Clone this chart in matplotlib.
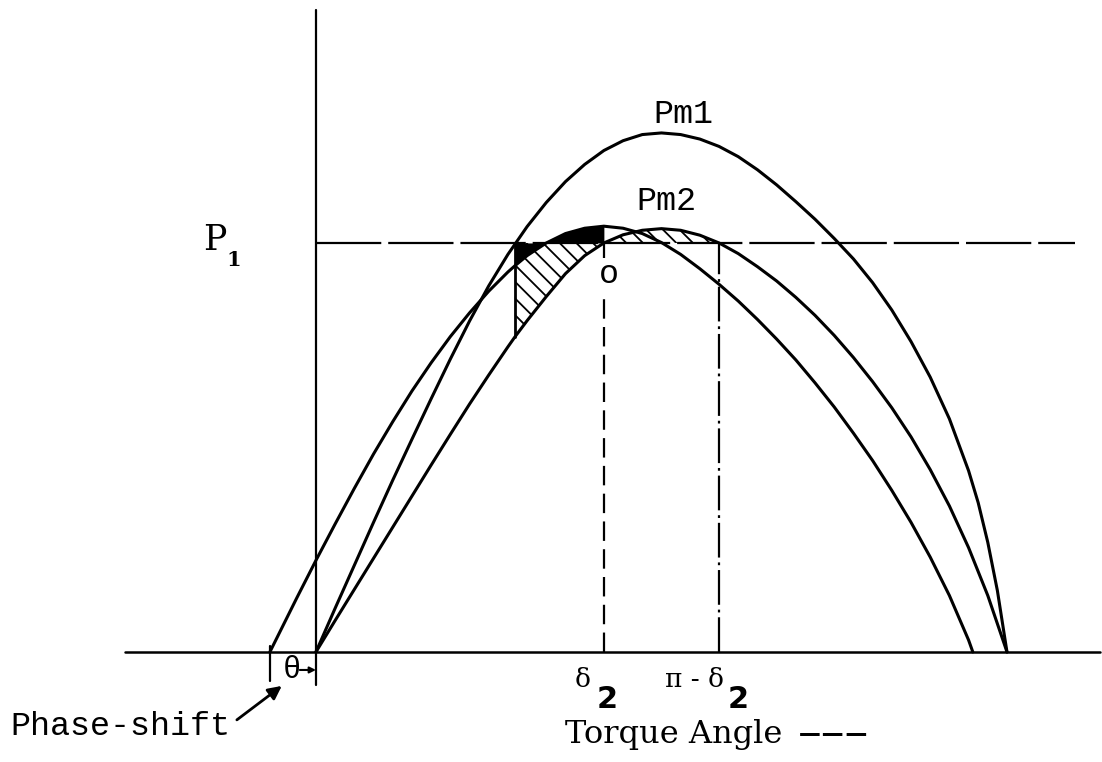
import numpy as np
import matplotlib
matplotlib.use('Agg')
from matplotlib import pyplot as plt

plt.rcParams['lines.scale_dashes'] = False
plt.rcParams['hatch.linewidth'] = 1.3
plt.rcParams['lines.solid_capstyle'] = 'round'
plt.rcParams['lines.solid_joinstyle'] = 'round'

# torque angle in degrees, power in units of P1
pm1_deg = [0, 5, 10, 15, 20, 25, 30, 35, 40, 45, 50, 55, 60, 65, 70, 75, 80,
           85, 90, 95, 100, 105, 110, 115, 120, 125, 130, 135, 140, 145, 150,
           155, 160, 165, 170, 172.5, 175, 177.5, 180]
pm1_p = [0, 0.107, 0.212, 0.317, 0.420, 0.520, 0.619, 0.716, 0.809, 0.895,
         0.972, 1.040, 1.099, 1.150, 1.192, 1.226, 1.250, 1.265, 1.269, 1.265,
         1.254, 1.236, 1.211, 1.179, 1.142, 1.101, 1.058, 1.011, 0.961, 0.903,
         0.836, 0.759, 0.672, 0.570, 0.443, 0.365, 0.268, 0.150, 0]

pm2_deg = [0, 5, 10, 15, 20, 25, 30, 35, 40, 45, 50, 51.8, 55, 60, 65, 70, 75,
           80, 85, 90, 95, 100, 105, 110, 115, 120, 125, 130, 135, 140, 145,
           150, 155, 160, 165, 170, 175, 180]
pm2_p = [0, 0.077, 0.153, 0.229, 0.305, 0.381, 0.457, 0.532, 0.606, 0.677,
         0.746, 0.770, 0.810, 0.869, 0.925, 0.969, 1.0, 1.020, 1.031, 1.035,
         1.031, 1.019, 1.0, 0.974, 0.942, 0.907, 0.867, 0.823, 0.774, 0.720,
         0.661, 0.597, 0.526, 0.446, 0.357, 0.255, 0.138, 0]

# curve displaced by the phase shift theta
shift_deg = [-12, -5, 0, 5, 10, 15, 20, 25, 30, 35, 40, 45, 50, 51.8, 55, 60,
             65, 70, 75, 80, 85, 90, 95, 100, 105, 110, 115, 120, 125, 130,
             135, 140, 145, 150, 155, 160, 165, 170, 171.1]
shift_p = [0, 0.132, 0.224, 0.313, 0.400, 0.484, 0.563, 0.638, 0.707, 0.771,
           0.829, 0.882, 0.929, 0.944, 0.969, 1.0, 1.023, 1.036, 1.041, 1.036,
           1.023, 1.001, 0.972, 0.937, 0.899, 0.858, 0.813, 0.765, 0.714,
           0.658, 0.599, 0.535, 0.468, 0.395, 0.317, 0.232, 0.138, 0.029, 0]

p1 = 1.0
theta = 12.0
delta0 = 51.8
delta2 = 75.0

MONO = 'Liberation Mono'
SERIF = 'DejaVu Serif'


def main():
    fig = plt.figure(figsize=(11.02, 7.62), dpi=100)
    ax = fig.add_axes([0, 0, 1, 1])
    ax.set_xlim(-82.3, 204.75)
    ax.set_ylim(-0.269, 1.594)
    ax.axis('off')

    x1, y1 = np.array(pm1_deg), np.array(pm1_p)
    x2, y2 = np.array(pm2_deg), np.array(pm2_p)
    xs, ys = np.array(shift_deg), np.array(shift_p)

    # hatched areas between Pm2 and P1, black strip under the shifted curve
    ax.fill_between(x2, y2, p1, where=(x2 >= delta0) & (x2 <= delta2),
                    facecolor='none', edgecolor='k', hatch='\\\\', linewidth=0)
    ax.fill_between(x2, y2, p1, where=(x2 >= delta2) & (x2 <= 180 - delta2),
                    facecolor='none', edgecolor='k', hatch='\\\\', linewidth=0)
    ax.fill_between(xs, ys, p1, where=(xs >= delta0) & (xs <= delta2),
                    color='k', linewidth=0)

    # axes
    ax.plot([-49.7, 204.2], [0, 0], color='k', lw=1.8)
    ax.plot([0, 0], [-0.08, 1.57], color='k', lw=1.6)

    # P1 line
    ax.plot([0, 197.7], [p1, p1], color='k', lw=1.6, dashes=[47, 5])

    for x, y in [(x1, y1), (x2, y2), (xs, ys)]:
        ax.plot(x, y, color='k', lw=2.2)

    ax.plot([delta0, delta0], [y2[pm2_deg.index(delta0)], p1], color='k', lw=2)

    # delta2 and pi - delta2
    ax.plot([delta2, delta2], [0, p1], color='k', lw=1.6, dashes=[14, 6])
    ax.plot([180 - delta2] * 2, [0, p1], color='k', lw=1.6,
            dashes=[25, 3.5, 2, 3.5])
    ax.text(delta2 + 1.2, 0.902, 'o', family=MONO, fontsize=24, ha='center',
            va='baseline',
            bbox=dict(facecolor='white', edgecolor='none', pad=1))

    ax.text(95.8, 1.293, 'Pm1', family=MONO, fontsize=24, ha='center',
            va='baseline')
    ax.text(91.4, 1.081, 'Pm2', family=MONO, fontsize=24, ha='center',
            va='baseline')
    ax.text(-29.4, 0.983, 'P', family=SERIF, fontsize=25, ha='left',
            va='baseline')
    ax.text(-23.4, 0.944, '1', family=SERIF, fontsize=15, fontweight='bold',
            ha='left', va='baseline')

    ax.text(delta2 - 5.5, -0.086, 'δ', family=SERIF, fontsize=19,
            ha='center', va='baseline')
    ax.text(delta2 + 0.8, -0.137, '2', family='DejaVu Sans', fontsize=22,
            fontweight='bold', ha='center', va='baseline')
    ax.text(180 - delta2 - 6.3, -0.086, 'π - δ', family=SERIF, fontsize=19,
            ha='center', va='baseline')
    ax.text(180 - delta2 + 5.0, -0.137, '2', family='DejaVu Sans',
            fontsize=22, fontweight='bold', ha='center', va='baseline')
    ax.text(64.9, -0.2225, 'Torque Angle', family=SERIF, fontsize=23,
            ha='left', va='baseline')
    ax.text(125.6, -0.232, '–––', family=SERIF, fontsize=34, ha='left',
            va='baseline')

    # phase shift marker
    ax.plot([-theta, -theta], [0.015, -0.07], color='k', lw=1.6)
    ax.text(-6.4, -0.044, 'θ', family=MONO, fontsize=22, ha='center',
            va='center')
    ax.annotate('', xy=(0, -0.044), xytext=(-4.2, -0.044),
                arrowprops=dict(arrowstyle='-|>', color='k', lw=1.5,
                                mutation_scale=9, shrinkA=0, shrinkB=0))
    ax.text(-79.7, -0.203, 'Phase-shift', family=MONO, fontsize=24,
            ha='left', va='baseline')
    ax.annotate('', xy=(-8.9, -0.083), xytext=(-20.6, -0.166),
                arrowprops=dict(arrowstyle='-|>', color='k', lw=2,
                                mutation_scale=20, shrinkA=0, shrinkB=0))

    fig.savefig('out.png', dpi=100)


if __name__ == '__main__':
    main()
